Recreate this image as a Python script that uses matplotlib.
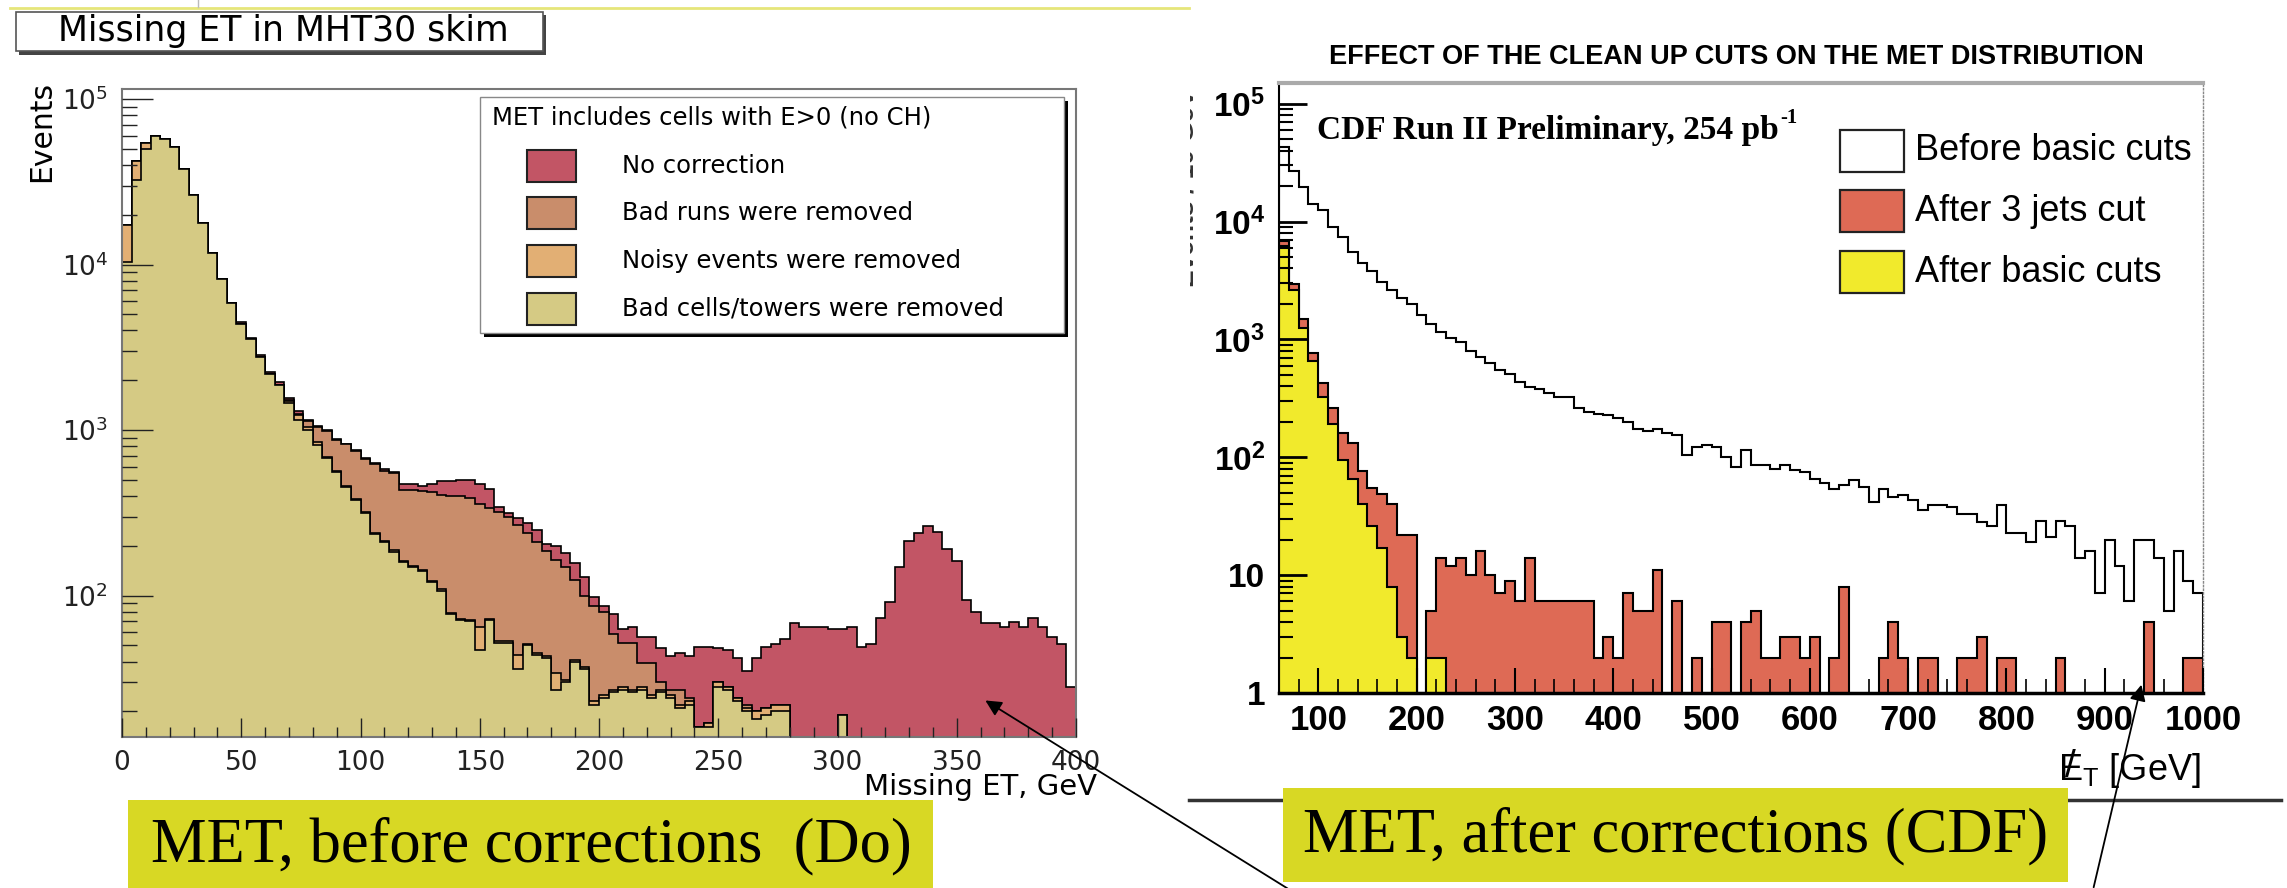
import numpy as np
import matplotlib
matplotlib.use("Agg")
import matplotlib.pyplot as plt
from matplotlib.patches import Rectangle, FancyArrowPatch
from matplotlib.lines import Line2D
from matplotlib.ticker import MultipleLocator, LogLocator, NullFormatter
from matplotlib.transforms import Bbox

# ---------------------------------------------------------------------------
# D0 panel: missing ET in the MHT30 skim, 4 GeV bins from 0 to 400 GeV
# ---------------------------------------------------------------------------
d0_lo, d0_hi, d0_width = 0, 400, 4

d0_no_correction = [
    17400, 42000, 54000, 59600, 57000, 51300, 38000, 26500, 17900, 11800,
    8200, 5900, 4500, 3600, 2850, 2250, 1950, 1560, 1300, 1150,
    1055, 1000, 880, 830, 760, 680, 630, 580, 560, 470,
    470, 460, 470, 490, 490, 500, 500, 470, 440, 345,
    317, 295, 275, 250, 205, 200, 180, 158, 129, 98,
    87, 78, 63, 65, 56, 56, 48, 43, 45, 43,
    49, 49, 48, 47, 42, 35, 42, 49, 51, 55,
    68, 65, 65, 65, 63, 63, 65, 49, 51, 73,
    92, 149, 215, 240, 265, 242, 192, 163, 94, 80,
    68, 68, 65, 69, 65, 73, 65, 56, 51, 28,
]
d0_bad_runs_removed = [
    17400, 42000, 54000, 59600, 57000, 51300, 38000, 26500, 17900, 11800,
    8200, 5900, 4350, 3540, 2750, 2180, 1870, 1520, 1260, 1130,
    1040, 990, 870, 820, 750, 670, 620, 570, 550, 437,
    437, 430, 420, 405, 400, 398, 390, 360, 340, 320,
    300, 267, 240, 210, 185, 165, 150, 125, 100, 87,
    80, 59, 52, 52, 39, 39, 30, 27, 27, 24,
    16, 17, 30, 28, 24, 22, 20, 21, 22, 22,
    0, 0, 0, 0, 0, 0, 0, 0, 0, 0,
    0, 0, 0, 0, 0, 0, 0, 0, 0, 0,
    0, 0, 0, 0, 0, 0, 0, 0, 0, 0,
]
d0_noisy_removed = [
    17400, 42000, 54000, 59600, 57000, 51300, 38000, 26500, 17900, 11800,
    8200, 5900, 4350, 3540, 2750, 2180, 1870, 1500, 1230, 1050,
    850, 690, 570, 460, 385, 320, 240, 215, 188, 163,
    152, 143, 123, 109, 79, 72, 71, 65, 72, 53,
    53, 44, 51, 45, 43, 34, 31, 41, 37, 23,
    25, 27, 28, 27, 28, 25, 27, 25, 22, 23,
    16, 17, 30, 28, 24, 21, 20, 21, 22, 22,
    0, 0, 0, 0, 0, 19, 0, 0, 0, 0,
    0, 0, 0, 0, 0, 0, 0, 0, 0, 0,
    0, 0, 0, 0, 0, 0, 0, 0, 0, 0,
]
d0_bad_cells_removed = [
    10400, 32600, 50000, 59600, 57000, 51300, 38000, 26500, 17900, 11800,
    8200, 5900, 4350, 3540, 2750, 2180, 1870, 1450, 1150, 1000,
    815, 675, 560, 455, 380, 315, 235, 210, 184, 160,
    150, 141, 121, 107, 77, 71, 70, 47, 71, 52,
    52, 36, 50, 44, 42, 27, 30, 40, 36, 22,
    24, 26, 27, 26, 27, 24, 26, 24, 21, 22,
    16, 16, 28, 27, 23, 20, 18, 19, 20, 20,
    0, 0, 0, 0, 0, 19, 0, 0, 0, 0,
    0, 0, 0, 0, 0, 0, 0, 0, 0, 0,
    0, 0, 0, 0, 0, 0, 0, 0, 0, 0,
]
d0_labels = ["No correction", "Bad runs were removed",
             "Noisy events were removed", "Bad cells/towers were removed"]
d0_colors = ["#C25565", "#C98D6B", "#E2AF74", "#D5CA84"]
d0_xticks = [0, 50, 100, 150, 200, 250, 300, 350, 400]
d0_yticks = [1e2, 1e3, 1e4, 1e5]
d0_yticklabels = [r"$\mathrm{10^{2}}$", r"$\mathrm{10^{3}}$",
                  r"$\mathrm{10^{4}}$", r"$\mathrm{10^{5}}$"]

# ---------------------------------------------------------------------------
# CDF panel: effect of the clean-up cuts, 10 GeV bins from 60 to 1000 GeV
# ---------------------------------------------------------------------------
cdf_lo, cdf_hi, cdf_width = 60, 1000, 10

cdf_before_basic = [
    43000, 26900, 19700, 14200, 12500, 9000, 7350, 5500, 4490, 3810,
    3100, 2630, 2230, 1980, 1610, 1360, 1160, 1020, 944, 800,
    708, 626, 553, 510, 432, 398, 382, 352, 324, 324,
    264, 243, 234, 228, 215, 198, 175, 168, 175, 160,
    154, 104, 122, 126, 122, 101, 83, 115, 86, 86,
    80, 86, 78, 75, 66, 60, 54, 58, 64, 56,
    42, 54, 46, 48, 43, 36, 39, 39, 38, 33,
    33, 28, 26, 39, 23, 23, 19, 29, 21, 29,
    26, 14, 16, 7, 20, 12, 6, 20, 20, 14,
    5, 16, 9, 7,
]
cdf_after_3jets = [
    6800, 2980, 1480, 770, 430, 264, 161, 131, 77, 55,
    49, 40, 22, 22, 1, 5, 14, 12, 14, 10,
    16, 10, 7, 9, 6, 14, 6, 6, 6, 6,
    6, 6, 2, 3, 2, 7, 5, 5, 11, 0,
    6, 0, 2, 0, 4, 4, 0, 4, 5, 2,
    2, 3, 3, 2, 3, 0, 2, 8, 0, 0,
    0, 2, 4, 2, 0, 2, 2, 0, 0, 2,
    2, 3, 0, 2, 2, 0, 0, 0, 0, 2,
    0, 0, 0, 0, 0, 0, 0, 0, 4, 0,
    0, 0, 2, 2,
]
cdf_after_basic = [
    6200, 2630, 1260, 650, 324, 190, 95, 66, 40, 26,
    17, 8, 3, 2, 0, 2, 2, 0, 0, 0,
    0, 0, 0, 0, 0, 0, 0, 0, 0, 0,
    0, 0, 0, 0, 0, 0, 0, 0, 0, 0,
    0, 0, 0, 0, 0, 0, 0, 0, 0, 0,
    0, 0, 0, 0, 0, 0, 0, 0, 0, 0,
    0, 0, 0, 0, 0, 0, 0, 0, 0, 0,
    0, 0, 0, 0, 0, 0, 0, 0, 0, 0,
    0, 0, 0, 0, 0, 0, 0, 0, 0, 0,
    0, 0, 0, 0,
]
cdf_labels = ["Before basic cuts", "After 3 jets cut", "After basic cuts"]
cdf_colors = ["white", "#DE6A55", "#F1EA2C"]
cdf_xticks = [100, 200, 300, 400, 500, 600, 700, 800, 900, 1000]
cdf_yticks = [1, 10, 1e2, 1e3, 1e4, 1e5]
cdf_yticklabels = ["1", "10", r"$\mathbf{10^{2}}$", r"$\mathbf{10^{3}}$",
                   r"$\mathbf{10^{4}}$", r"$\mathbf{10^{5}}$"]

caption_left = "MET, before corrections  (Do)"
caption_right = "MET, after corrections (CDF)"
caption_color = "#D8D824"

# ---------------------------------------------------------------------------
plt.rcParams["font.family"] = ["DejaVu Sans"]
plt.rcParams["mathtext.fontset"] = "custom"
plt.rcParams["mathtext.rm"] = "DejaVu Sans"
plt.rcParams["mathtext.bf"] = "Liberation Sans:bold"
plt.rcParams["mathtext.sf"] = "Liberation Sans"

W, H = 2287, 888
fig = plt.figure(figsize=(W / 100, H / 100), dpi=100)
fig.patch.set_facecolor("white")


def fx(x):
    return x / W


def fy(y):
    return 1 - y / H


def add_rect(x0, y0, x1, y1, **kw):
    r = Rectangle((fx(x0), fy(y1)), (x1 - x0) / W, (y1 - y0) / H,
                  transform=fig.transFigure, **kw)
    fig.add_artist(r)
    return r


def add_line(xs, ys, **kw):
    ln = Line2D([fx(x) for x in xs], [fy(y) for y in ys],
                transform=fig.transFigure, **kw)
    fig.add_artist(ln)
    return ln


def draw_hist(ax, values, edges, floor, face, lw=1.3):
    v = np.asarray(values, dtype=float)
    v = np.where(v > 0, v, floor)
    if face is not None:
        ax.stairs(v, edges, baseline=floor, fill=True, facecolor=face,
                  edgecolor="none")
    ax.stairs(v, edges, baseline=floor, fill=False, color="black", lw=lw)


# ------------------------------ left panel ---------------------------------
axL = fig.add_axes([fx(122), fy(737), (1076 - 122) / W, (737 - 89) / H])
edgesL = np.arange(d0_lo, d0_hi + d0_width, d0_width)
for vals, col in zip([d0_no_correction, d0_bad_runs_removed,
                      d0_noisy_removed, d0_bad_cells_removed], d0_colors):
    draw_hist(axL, vals, edgesL, 1.0, col, lw=1.2)

axL.set_xlim(d0_lo, d0_hi)
axL.set_yscale("log")
axL.set_ylim(14, 1.15e5)
axL.set_xticks(d0_xticks)
axL.set_xticklabels([str(t) for t in d0_xticks])
axL.xaxis.set_minor_locator(MultipleLocator(10))
axL.set_yticks(d0_yticks)
axL.set_yticklabels(d0_yticklabels)
axL.yaxis.set_minor_locator(LogLocator(base=10, subs=np.arange(2, 10) * 1.0, numticks=20))
axL.yaxis.set_minor_formatter(NullFormatter())
axL.set_axisbelow(False)
axL.tick_params(which="both", direction="in", top=False, right=False, colors="#222")
axL.tick_params(axis="x", which="major", length=14, width=1, labelsize=19, pad=9)
axL.tick_params(axis="x", which="minor", length=7, width=1)
axL.tick_params(axis="y", which="major", length=22, width=1, labelsize=19, pad=10)
axL.tick_params(axis="y", which="minor", length=11, width=1)
for s in axL.spines.values():
    s.set_color("#777")
    s.set_linewidth(1.5)

fig.text(fx(42), fy(131), "Events", rotation=90, ha="center", va="center",
         fontsize=21.5)
fig.text(fx(1097), fy(787), "Missing ET, GeV", ha="right", va="center",
         fontsize=21)

# title box
add_rect(19, 15, 546, 55, facecolor="#444", edgecolor="none")
add_rect(16, 12, 543, 51, facecolor="white", edgecolor="#555", lw=1.2)
fig.text(fx(283), fy(31), "Missing ET in MHT30 skim", ha="center", va="center",
         fontsize=25)

# legend
add_rect(484, 101, 1068, 337, facecolor="black", edgecolor="none")
add_rect(480, 97, 1064, 333, facecolor="white", edgecolor="#888", lw=1)
fig.text(fx(492), fy(118), "MET includes cells with E>0 (no CH)", va="center",
         fontsize=17.5)
for i, (lab, col) in enumerate(zip(d0_labels, d0_colors)):
    yc = 166 + i * 47.5
    add_rect(527, yc - 16, 576, yc + 16, facecolor=col, edgecolor="#222", lw=1.5)
    fig.text(fx(622), fy(yc), lab, va="center", fontsize=17.5)

# ------------------------------ right panel --------------------------------
axR = fig.add_axes([fx(1279), fy(693), (2203 - 1279) / W, (693 - 83) / H])
edgesR = np.arange(cdf_lo, cdf_hi + cdf_width, cdf_width)
draw_hist(axR, cdf_before_basic, edgesR, 0.5, None, lw=1.5)
draw_hist(axR, cdf_after_3jets, edgesR, 0.5, cdf_colors[1], lw=1.5)
draw_hist(axR, cdf_after_basic, edgesR, 0.5, cdf_colors[2], lw=1.5)

axR.set_xlim(cdf_lo, cdf_hi)
axR.set_yscale("log")
axR.set_ylim(1, 1.5e5)
axR.set_xticks(cdf_xticks)
axR.set_xticklabels([str(t) for t in cdf_xticks])
axR.xaxis.set_minor_locator(MultipleLocator(20))
axR.set_yticks(cdf_yticks)
axR.set_yticklabels(cdf_yticklabels)
axR.yaxis.set_minor_locator(LogLocator(base=10, subs=np.arange(2, 10) * 1.0, numticks=20))
axR.yaxis.set_minor_formatter(NullFormatter())
axR.set_axisbelow(False)
axR.tick_params(which="both", direction="in", top=False, right=False)
axR.tick_params(axis="x", which="major", length=18, width=1.5, labelsize=25, pad=8)
axR.tick_params(axis="x", which="minor", length=10, width=1.2)
axR.tick_params(axis="y", which="major", length=20, width=2, labelsize=24, pad=10)
axR.tick_params(axis="y", which="minor", length=10, width=1.5)
for lab in axR.get_xticklabels() + axR.get_yticklabels():
    lab.set_fontfamily("Liberation Sans")
    lab.set_fontweight("bold")
axR.spines["left"].set_linewidth(1.5)
axR.spines["bottom"].set_linewidth(2.5)
axR.spines["top"].set_color("#aaa")
axR.spines["top"].set_linewidth(3)
axR.spines["right"].set_color("#888")
axR.spines["right"].set_linewidth(1)
axR.spines["right"].set_linestyle(":")

fig.text(fx(1736), fy(57), "EFFECT OF THE CLEAN UP CUTS ON THE MET DISTRIBUTION",
         ha="center", va="center", fontsize=19.5, fontweight="bold",
         fontfamily="Liberation Sans")
cdf_tag = fig.text(fx(1317), fy(130), "CDF Run II Preliminary, 254 pb",
                   va="center", fontsize=24, fontweight="bold",
                   fontfamily="Liberation Serif")

for i, (lab, col) in enumerate(zip(cdf_labels, cdf_colors)):
    yc = 151 + i * 60.5
    add_rect(1840, yc - 21, 1904, yc + 21, facecolor=col, edgecolor="#222", lw=1.6)
    fig.text(fx(1915), fy(yc), lab, va="center", fontsize=26,
             fontfamily="Liberation Sans")

# missing transverse energy axis title: E_T with a slash drawn through the E
met_title = fig.text(fx(2201), fy(771), r"$\mathsf{E_{T}}$ [GeV]", ha="right",
                     va="center", fontsize=26, fontfamily="Liberation Sans")

# clipped vertical axis title at the left border of the CDF panel
ytitle = fig.text(fx(1186), fy(188), "Events / 10 GeV", rotation=90,
                  ha="center", va="center", fontsize=19, fontweight="bold",
                  fontfamily="Liberation Sans", color="#333")
ytitle.set_clip_box(Bbox([[1190, 0], [1230, H]]))
ytitle.set_clip_on(True)

# ------------------------------ page decorations ---------------------------
add_line([10, 1189], [8, 8], color="#E6E67A", lw=2)
add_line([198, 198], [0, 7], color="#bbb", lw=1)
add_line([1189, 2281], [800, 800], color="#333", lw=2.5, zorder=0.5)

add_rect(128, 800, 933, 895, facecolor=caption_color, edgecolor="none", zorder=1)
fig.text(fx(531), fy(846), caption_left, ha="center", va="center", fontsize=45,
         fontfamily="Liberation Serif")
add_rect(1283, 788, 2068, 882, facecolor=caption_color, edgecolor="none", zorder=1)
fig.text(fx(1676), fy(836), caption_right, ha="center", va="center", fontsize=45,
         fontfamily="Liberation Serif")

fig.add_artist(FancyArrowPatch((fx(1290), fy(890)), (fx(983), fy(699)),
                               transform=fig.transFigure, arrowstyle="-|>",
                               mutation_scale=24, lw=1.3, color="black", zorder=6))
fig.add_artist(FancyArrowPatch((fx(2093), fy(890)), (fx(2142), fy(682)),
                               transform=fig.transFigure, arrowstyle="-|>",
                               mutation_scale=24, lw=1.3, color="black", zorder=6))

# place measured-position pieces: luminosity superscript and the E slash
fig.canvas.draw()
renderer = fig.canvas.get_renderer()
bb = cdf_tag.get_window_extent(renderer)
fig.text((bb.x1 + 2) / W, (bb.y1 - 4) / H, "-1", va="center", fontsize=15,
         fontweight="bold", fontfamily="Liberation Serif")
mb = met_title.get_window_extent(renderer)
fig.text((mb.x0 + 12) / W, (mb.y0 + mb.y1) / 2 / H + 0.004, "/", ha="center",
         va="center", fontsize=28, fontfamily="Liberation Sans")

fig.savefig("out.png", dpi=100)
